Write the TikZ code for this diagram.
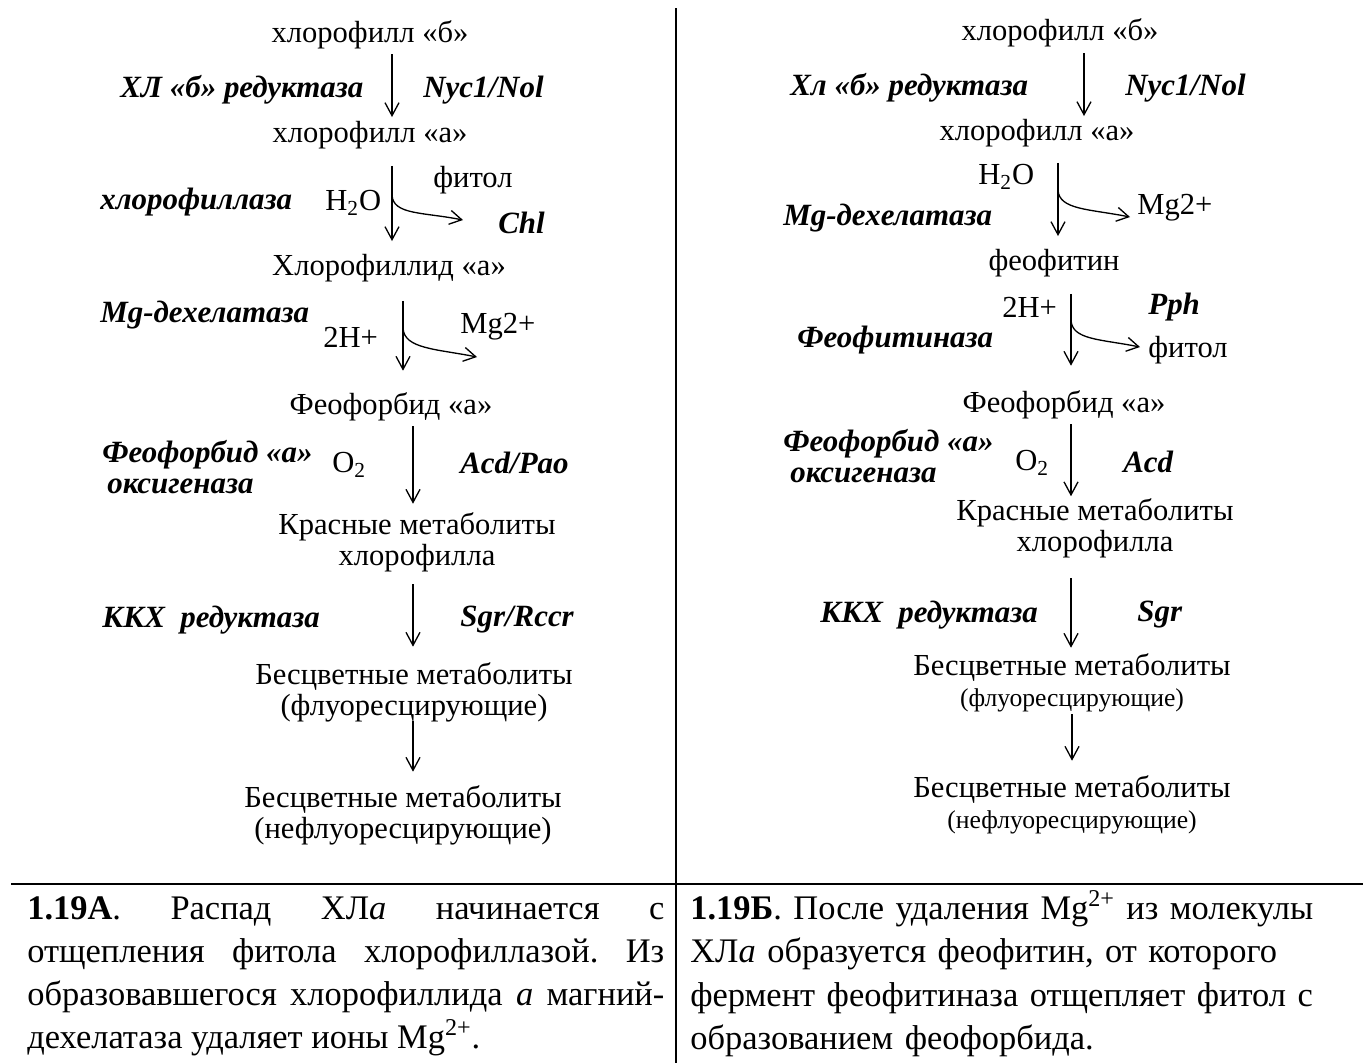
\documentclass[tikz,border=0pt]{standalone}
\usepackage{fontspec}
\setmainfont{Liberation Serif}
\usetikzlibrary{arrows.meta}
\frenchspacing

\begin{document}
\begin{tikzpicture}[
  font=\fontsize{17.4}{17.6}\selectfont,
  cmpd/.style={align=center, inner sep=1pt},
  enz/.style={anchor=west, align=left, inner sep=0pt, font=\fontsize{17.6}{17.6}\selectfont\bfseries\itshape},
  side/.style={anchor=west, inner sep=0pt},
  cell/.style={anchor=north west, inner sep=0pt, text width=12.74cm, font=\fontsize{19.6}{24.6}\selectfont},
  a/.style={-{Straight Barb[length=2.6mm,width=2.8mm]}, line width=0.75pt},
  br/.style={-{Straight Barb[length=2.4mm,width=2.8mm]}, line width=0.75pt},
  tabline/.style={line width=1.5pt}
]
\useasboundingbox (0,0) rectangle (27.36,-21.26);

\node[cmpd] (chlbL) at (7.40,-0.70) {хлорофилл «б»};
\node[enz] (redbL) at (2.40,-1.80) {ХЛ «б» редуктаза};
\node[enz] (nycL) at (8.46,-1.80) {Nyc1/Nol};
\node[cmpd] (chlaL) at (7.40,-2.70) {хлорофилл «а»};
\node[side] (phytL) at (8.66,-3.60) {фитол};
\node[enz] (chlaseL) at (2.00,-4.04) {хлорофиллаза};
\node[side] (waterL) at (6.50,-4.06) {H\textsubscript{2}O};
\node[enz] (chlL) at (9.96,-4.46) {Chl};
\node[cmpd] (chlideL) at (7.78,-5.36) {Хлорофиллид «а»};
\node[enz] (mgdL) at (2.00,-6.30) {Mg-дехелатаза};
\node[side] (hL) at (6.46,-6.74) {2H+};
\node[side] (mgL) at (9.20,-6.54) {Mg2+};
\node[cmpd] (pheideL) at (7.82,-8.14) {Феофорбид «а»};
\node[enz] (paoL) at (2.04,-9.34) {Феофорбид «а»\\\hspace{0.1cm}оксигеназа};
\node[side] (oxL) at (6.64,-9.30) {O\textsubscript{2}};
\node[enz] (acdL) at (9.20,-9.26) {Acd/Pao};
\node[cmpd] (rccL) at (8.34,-10.85) {Красные метаболиты\\хлорофилла};
\node[enz] (rcrL) at (2.04,-12.40) {ККХ\ \ редуктаза};
\node[enz] (sgrL) at (9.20,-12.40) {Sgr/Rccr};
\node[cmpd] (fccL) at (8.28,-13.84) {Бесцветные метаболиты\\(флуоресцирующие)};
\node[cmpd] (nccL) at (8.06,-16.30) {Бесцветные метаболиты\\(нефлуоресцирующие)};

\coordinate (x1L) at (7.84,0);
\coordinate (x2L) at (7.84,0);
\coordinate (x3L) at (8.06,0);
\coordinate (x4L) at (8.26,0);
\coordinate (b1L) at (7.84,-3.90);
\coordinate (b1Le) at (9.26,-4.40);
\coordinate (b2L) at (8.06,-6.56);
\coordinate (b2Le) at (9.54,-7.14);

\draw[a, shorten <=0.06cm, shorten >=0.04cm] (chlbL.south -| x1L) -- (chlaL.north -| x1L);
\draw[a, shorten <=0.30cm, shorten >=0.22cm] (chlaL.south -| x2L) -- (chlideL.north -| x2L);
\draw[a, shorten <=0.34cm, shorten >=0.40cm] (chlideL.south -| x3L) -- (pheideL.north -| x3L);
\draw[a, shorten <=0.06cm, shorten >=0.14cm] (pheideL.south -| x4L) -- (rccL.north -| x4L);
\draw[a, shorten <=0.20cm, shorten >=0.27cm] (rccL.south -| x4L) -- (fccL.north -| x4L);
\draw[a, shorten <=-0.05cm, shorten >=0.23cm] (fccL.south -| x4L) -- (nccL.north -| x4L);
\draw[br] (b1L) .. controls +(0.02,-0.40) and +(-0.8,0.16) .. (b1Le);
\draw[br] (b2L) .. controls +(0.02,-0.42) and +(-0.8,0.16) .. (b2Le);

\node[cmpd] (chlbR) at (21.20,-0.66) {хлорофилл «б»};
\node[enz] (redbR) at (15.80,-1.76) {Хл «б» редуктаза};
\node[enz] (nycR) at (22.50,-1.76) {Nyc1/Nol};
\node[cmpd] (chlaR) at (20.74,-2.66) {хлорофилл «а»};
\node[side] (waterR) at (19.56,-3.54) {H\textsubscript{2}O};
\node[side] (mgR) at (22.74,-4.16) {Mg2+};
\node[enz] (mgdR) at (15.66,-4.36) {Mg-дехелатаза};
\node[cmpd] (pheoR) at (21.08,-5.26) {феофитин};
\node[side] (hR) at (20.04,-6.14) {2H+};
\node[enz] (pphR) at (22.96,-6.14) {Pph};
\node[side] (phytR) at (22.96,-7.00) {фитол};
\node[enz] (pphaseR) at (15.94,-6.80) {Феофитиназа};
\node[cmpd] (pheideR) at (21.28,-8.10) {Феофорбид «а»};
\node[enz] (paoR) at (15.66,-9.12) {Феофорбид «а»\\\hspace{0.14cm}оксигеназа};
\node[side] (oxR) at (20.30,-9.26) {O\textsubscript{2}};
\node[enz] (acdR) at (22.46,-9.24) {Acd};
\node[cmpd] (rccR) at (21.90,-10.56) {Красные метаболиты\\хлорофилла};
\node[enz] (rcrR) at (16.40,-12.30) {ККХ\ \ редуктаза};
\node[enz] (sgrR) at (22.74,-12.30) {Sgr};
\node[cmpd] (fccR) at (21.44,-13.65) {Бесцветные метаболиты\\{\fontsize{14.6}{16}\selectfont(флуоресцирующие)}};
\node[cmpd] (nccR) at (21.44,-16.10) {Бесцветные метаболиты\\{\fontsize{14.6}{16}\selectfont(нефлуоресцирующие)}};

\coordinate (x1R) at (21.68,0);
\coordinate (x2R) at (21.16,0);
\coordinate (x3R) at (21.42,0);
\coordinate (x6R) at (21.44,0);
\coordinate (b1R) at (21.16,-3.80);
\coordinate (b1Re) at (22.60,-4.34);
\coordinate (b2R) at (21.42,-6.40);
\coordinate (b2Re) at (22.80,-6.94);

\draw[a, shorten <=0.08cm, shorten >=0.02cm] (chlbR.south -| x1R) -- (chlaR.north -| x1R);
\draw[a, shorten <=0.28cm, shorten >=0.22cm] (chlaR.south -| x2R) -- (pheoR.north -| x2R);
\draw[a, shorten <=0.30cm, shorten >=0.46cm] (pheoR.south -| x3R) -- (pheideR.north -| x3R);
\draw[a, shorten <=0.06cm] (pheideR.south -| x3R) -- (rccR.north -| x3R);
\draw[a, shorten <=0.37cm, shorten >=0.07cm] (rccR.south -| x3R) -- (fccR.north -| x3R);
\draw[a, shorten <=0.01cm, shorten >=0.26cm] (fccR.south -| x6R) -- (nccR.north -| x6R);
\draw[br] (b1R) .. controls +(0.02,-0.40) and +(-0.8,0.16) .. (b1Re);
\draw[br] (b2R) .. controls +(0.02,-0.40) and +(-0.8,0.16) .. (b2Re);

\coordinate (colT) at (13.52,-0.16);
\coordinate (colB) at (13.52,-21.26);
\coordinate (rowL) at (0.22,-17.68);
\coordinate (rowR) at (27.26,-17.68);
\draw[tabline] (colT) -- (colB);
\draw[tabline] (rowL) -- (rowR);

\node[cell, align=justify] (capA) at (0.54,-17.92) {\makebox[12.74cm][s]{\textbf{1.19А}. Распад ХЛ\textit{а} начинается с}\\
  \makebox[12.74cm][s]{отщепления фитола хлорофиллазой. Из}\\
  \makebox[12.74cm][s]{образовавшегося хлорофиллида \textit{а} магний-}\\
  дехелатаза удаляет ионы Mg\textsuperscript{2+}.};
\node[cell, align=left, text width=13.4cm] (capB) at (13.80,-17.80) {\textbf{1.19Б}. После удаления Mg\textsuperscript{2+} из молекулы\\
  ХЛ\textit{а} образуется феофитин, от которого\\
  фермент феофитиназа отщепляет фитол с\\
  образованием феофорбида.};
\end{tikzpicture}
\end{document}
